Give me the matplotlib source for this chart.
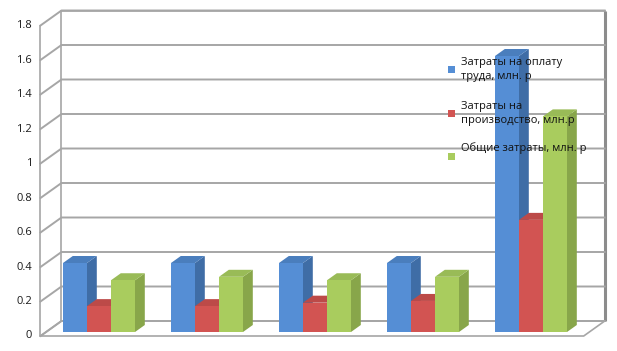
import matplotlib
matplotlib.use("Agg")
import matplotlib.pyplot as plt
from matplotlib.patches import Polygon, Rectangle

plt.rcParams['font.family'] = ['Open Sans', 'DejaVu Sans']

# ---- data ----
groups = ["1", "2", "3", "4", "5"]
labor = [0.40, 0.40, 0.40, 0.40, 1.60]
production = [0.15, 0.15, 0.17, 0.18, 0.65]
total = [0.30, 0.32, 0.30, 0.32, 1.25]
series_names = ["Затраты на оплату\nтруда, млн. р",
                "Затраты на\nпроизводство, млн.р",
                "Общие затраты, млн. р"]
yticks = [0, 0.2, 0.4, 0.6, 0.8, 1.0, 1.2, 1.4, 1.6, 1.8]
ytick_labels = ["0", "0.2", "0.4", "0.6", "0.8", "1", "1.2", "1.4", "1.6", "1.8"]

# ---- style ----
front_cols = ["#558ED5", "#D25452", "#A9CC5E"]
side_cols = ["#3F6DA6", "#A84240", "#88A64A"]
top_cols = ["#4A7EBD", "#BC4A48", "#99BB57"]
grid_col = "#A6A6A6"

W, H = 617, 351
fig = plt.figure(figsize=(W / 100, H / 100), dpi=100)
ax = fig.add_axes([0, 0, 1, 1])
ax.set_axis_off()

# pixel mapping of bar front plane
px0, pxs = 99.0, 108.0    # x pixel of group 0, pixels per group
py0, pys = 332.0, 172.5   # y pixel of value 0, pixels per unit
ax.set_xlim(-px0 / pxs, (W - px0) / pxs)
ax.set_ylim((py0 - H) / pys, py0 / pys)

DX = 21.0 / pxs    # full depth offset
DV = 15.0 / pys
f0, f1 = 4.0 / 15.0, 11.0 / 15.0   # bar depth range
xlo, xhi = -0.49, 4.54
vmax = yticks[-1]


def P(x, v, d):
    return (x + (d - f0) * DX, v + (d - f0) * DV)


# floor
ax.add_patch(Polygon([P(xlo, 0, 0), P(xhi, 0, 0), P(xhi, 0, 1), P(xlo, 0, 1)],
                     closed=True, facecolor="white", edgecolor=grid_col, lw=1.2, zorder=1))
# back wall
ax.add_patch(Polygon([P(xlo, 0, 1), P(xhi, 0, 1), P(xhi, vmax, 1), P(xlo, vmax, 1)],
                     closed=True, facecolor="white", edgecolor=grid_col, lw=1.2, zorder=1))
# right wall edge thicker
xs, ys = zip(P(xhi, 0, 1), P(xhi, vmax, 1))
ax.plot(xs, ys, color="#8C8C8C", lw=2.2, zorder=2, solid_capstyle="butt")
# gridlines
for t in yticks:
    pts = [P(xlo, t, 0), P(xlo, t, 1), P(xhi, t, 1)]
    xs, ys = zip(*pts)
    ax.plot(xs, ys, color=grid_col, lw=1.4, zorder=2)
# left front axis
xs, ys = zip(P(xlo, 0, 0), P(xlo, vmax, 0))
ax.plot(xs, ys, color=grid_col, lw=1.2, zorder=2)
for t, lab in zip(yticks, ytick_labels):
    ax.annotate(lab, xy=P(xlo, t, 0), xytext=(-6, 0), textcoords="offset points",
                ha="right", va="center", fontsize=8, color="#1a1a1a")

# bars
w = 24.0 / pxs
z = 5
for i in range(len(groups)):
    for s, vals in enumerate([labor, production, total]):
        v = vals[i]
        x = i + (s - 1) * w
        xl, xr = x - w / 2, x + w / 2
        side = [P(xr, 0, f0), P(xr, v, f0), P(xr, v, f1), P(xr, 0, f1)]
        top = [P(xl, v, f0), P(xr, v, f0), P(xr, v, f1), P(xl, v, f1)]
        ax.add_patch(Polygon(side, closed=True, facecolor=side_cols[s], edgecolor="none", zorder=z))
        ax.add_patch(Polygon(top, closed=True, facecolor=top_cols[s], edgecolor="none", zorder=z + 1))
        ax.bar(x, v, width=w, bottom=0, color=front_cols[s], edgecolor="none", zorder=z + 2)
        z += 3

# legend
leg_text_y = [62, 106, 148]
leg_mark_y = [69, 113, 156]
line_step = 14
for s in range(3):
    fig.patches.append(Rectangle((448 / W, 1 - (leg_mark_y[s] + 4) / H), 7 / W, 7 / H,
                                 transform=fig.transFigure, facecolor=front_cols[s],
                                 edgecolor="none", zorder=100))
    for k, line in enumerate(series_names[s].split("\n")):
        fig.text(461 / W, 1 - (leg_text_y[s] + k * line_step) / H, line, ha="left",
                 va="center", fontsize=8, color="#111111", zorder=101)

fig.savefig("out.png", dpi=100, facecolor="white")
